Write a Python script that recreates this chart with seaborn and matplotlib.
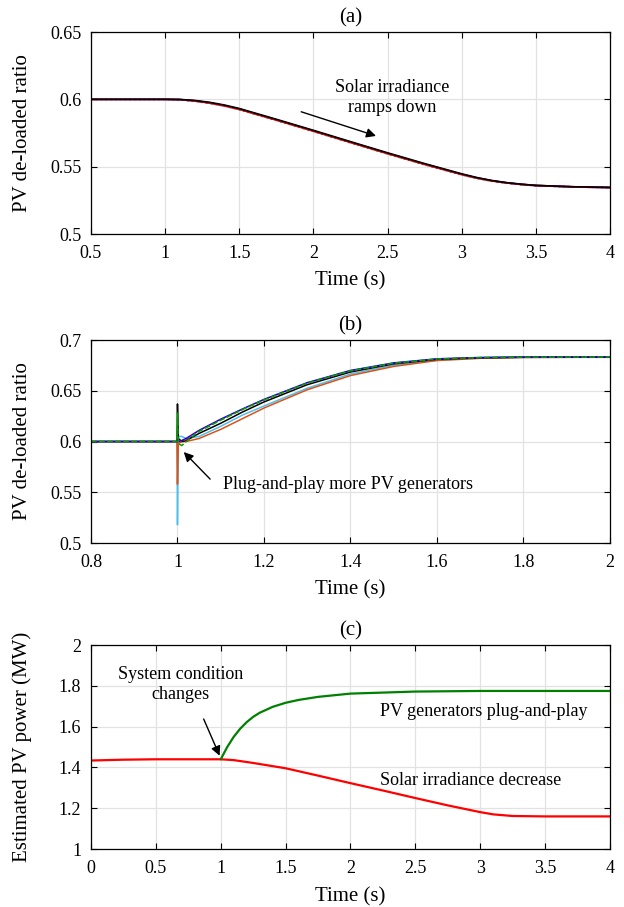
import matplotlib
matplotlib.use('Agg')
import matplotlib.pyplot as plt
import seaborn as sns
from matplotlib.ticker import FormatStrFormatter

# ---- panel (a): de-loaded ratio, irradiance ramp ----
t_a = [0.5, 1.0, 1.1, 1.2, 1.3, 1.4, 1.5, 1.75, 2.0, 2.25, 2.5, 2.75, 3.0, 3.1, 3.2, 3.3, 3.4, 3.5, 3.75, 4.0]
a_black = [0.6, 0.6, 0.5999, 0.5992, 0.5978, 0.5958, 0.5932, 0.5852, 0.5770, 0.5686, 0.5603, 0.5523, 0.5447, 0.5420, 0.5398, 0.5382, 0.5370, 0.5361, 0.5351, 0.5346]
a_red = [0.6, 0.6, 0.5998, 0.5988, 0.5973, 0.5952, 0.5926, 0.5846, 0.5764, 0.5680, 0.5597, 0.5517, 0.5442, 0.5416, 0.5395, 0.5380, 0.5368, 0.5360, 0.5350, 0.5345]
a_green = [0.6, 0.6, 0.5997, 0.5987, 0.5971, 0.5950, 0.5924, 0.5844, 0.5762, 0.5678, 0.5595, 0.5515, 0.5440, 0.5414, 0.5393, 0.5378, 0.5367, 0.5359, 0.5350, 0.5345]
a_blue = [0.6, 0.6, 0.5998, 0.5989, 0.5974, 0.5953, 0.5928, 0.5848, 0.5766, 0.5682, 0.5599, 0.5519, 0.5443, 0.5417, 0.5396, 0.5380, 0.5369, 0.5360, 0.5350, 0.5345]

# ---- panel (b): de-loaded ratio, plug-and-play ----
t_b = [0.8, 0.999, 1.0, 1.002, 1.01, 1.02, 1.05, 1.1, 1.15, 1.2, 1.3, 1.4, 1.5, 1.6, 1.7, 1.8, 2.0]
b_cyan = [0.6, 0.6, 0.518, 0.605, 0.605, 0.603, 0.605, 0.615, 0.626, 0.635, 0.6525, 0.6665, 0.6752, 0.6802, 0.6822, 0.683, 0.6832]
b_orange = [0.6, 0.6, 0.558, 0.598, 0.600, 0.600, 0.603, 0.612, 0.6225, 0.633, 0.651, 0.665, 0.674, 0.6798, 0.682, 0.6828, 0.6832]
b_blue = [0.6, 0.6, 0.6, 0.600, 0.601, 0.603, 0.611, 0.622, 0.632, 0.6415, 0.658, 0.670, 0.6775, 0.6815, 0.6828, 0.6832, 0.6833]
b_red = [0.6, 0.6, 0.6, 0.600, 0.600, 0.602, 0.6105, 0.6215, 0.6315, 0.641, 0.6575, 0.6695, 0.677, 0.6812, 0.6826, 0.6831, 0.6833]
b_black = [0.6, 0.6, 0.637, 0.603, 0.600, 0.601, 0.608, 0.618, 0.629, 0.639, 0.656, 0.6685, 0.6765, 0.681, 0.6825, 0.683, 0.683]
b_green = [0.6, 0.6, 0.628, 0.598, 0.596, 0.600, 0.610, 0.621, 0.6315, 0.641, 0.6575, 0.6697, 0.6772, 0.6813, 0.6827, 0.6831, 0.6833]

# ---- panel (c): estimated PV power ----
t_red = [0.0, 0.25, 0.5, 1.0, 1.1, 1.25, 1.5, 1.75, 2.0, 2.25, 2.5, 2.75, 3.0, 3.1, 3.25, 3.5, 4.0]
p_red = [1.434, 1.438, 1.44, 1.44, 1.436, 1.422, 1.396, 1.360, 1.323, 1.287, 1.250, 1.214, 1.181, 1.170, 1.162, 1.160, 1.160]
t_green = [1.0, 1.05, 1.1, 1.15, 1.2, 1.25, 1.3, 1.4, 1.5, 1.6, 1.75, 2.0, 2.5, 3.0, 4.0]
p_green = [1.44, 1.50, 1.55, 1.59, 1.622, 1.648, 1.668, 1.697, 1.717, 1.731, 1.746, 1.762, 1.772, 1.775, 1.775]

xt_a = [0.5, 1, 1.5, 2, 2.5, 3, 3.5, 4]
yt_a = [0.5, 0.55, 0.6, 0.65]
xt_b = [0.8, 1, 1.2, 1.4, 1.6, 1.8, 2]
yt_b = [0.5, 0.55, 0.6, 0.65, 0.7]
xt_c = [0, 0.5, 1, 1.5, 2, 2.5, 3, 3.5, 4]
yt_c = [1, 1.2, 1.4, 1.6, 1.8, 2]

sns.set_theme(style='whitegrid')
plt.rcParams['font.family'] = ['Liberation Serif', 'DejaVu Serif']
plt.rcParams.update({
    'axes.edgecolor': 'black', 'axes.linewidth': 0.9,
    'grid.color': '#e2e2e2', 'grid.linewidth': 0.9,
    'xtick.direction': 'in', 'ytick.direction': 'in',
    'xtick.top': True, 'ytick.right': True,
    'xtick.bottom': True, 'ytick.left': True,
    'xtick.major.size': 4, 'ytick.major.size': 4,
    'xtick.major.width': 0.8, 'ytick.major.width': 0.8,
    'xtick.color': 'black', 'ytick.color': 'black',
    'xtick.labelsize': 13, 'ytick.labelsize': 13,
    'text.color': 'black', 'axes.labelcolor': 'black',
})

fig = plt.figure(figsize=(6.24, 9.07), dpi=100)
ax_a = fig.add_axes([0.1458, 0.7420, 0.8317, 0.2227])
ax_b = fig.add_axes([0.1458, 0.4013, 0.8317, 0.2238])
ax_c = fig.add_axes([0.1458, 0.0639, 0.8317, 0.2249])

kw = dict(estimator=None, sort=False)
# (a)
sns.lineplot(x=t_a, y=a_green, ax=ax_a, color='#00a000', lw=1.3, ls=':', **kw)
sns.lineplot(x=t_a, y=a_blue, ax=ax_a, color='#0000ff', lw=1.3, **kw)
sns.lineplot(x=t_a, y=a_red, ax=ax_a, color='#ff0000', lw=1.3, **kw)
sns.lineplot(x=t_a, y=a_black, ax=ax_a, color='black', lw=1.2, **kw)
ax_a.annotate('', xy=(2.44, 0.5722), xytext=(1.9, 0.5914),
              arrowprops=dict(arrowstyle='-|>', color='black', lw=1.0, mutation_scale=14))
ax_a.text(2.53, 0.6015, 'Solar irradiance\nramps down', ha='center', va='center',
          fontsize=13, linespacing=1.25)

# (b)
sns.lineplot(x=t_b, y=b_cyan, ax=ax_b, color='#4dbeee', lw=1.1, **kw)
sns.lineplot(x=t_b, y=b_orange, ax=ax_b, color='#d95319', lw=1.1, **kw)
sns.lineplot(x=t_b, y=b_black, ax=ax_b, color='black', lw=1.1, **kw)
sns.lineplot(x=t_b, y=b_blue, ax=ax_b, color='#0000ff', lw=1.1, **kw)
sns.lineplot(x=t_b, y=b_red, ax=ax_b, color='#ff0000', lw=1.1, ls=':', **kw)
sns.lineplot(x=t_b, y=b_green, ax=ax_b, color='#00a000', lw=1.1, ls='--', **kw)
ax_b.annotate('', xy=(1.01, 0.5916), xytext=(1.08, 0.561),
              arrowprops=dict(arrowstyle='-|>', color='black', lw=1.0, mutation_scale=14))
ax_b.text(1.105, 0.558, 'Plug-and-play more PV generators', ha='left', va='center', fontsize=13)

# (c)
sns.lineplot(x=t_red, y=p_red, ax=ax_c, color='#ff0000', lw=1.6, **kw)
sns.lineplot(x=t_green, y=p_green, ax=ax_c, color='#008000', lw=1.6, **kw)
ax_c.annotate('', xy=(1.0, 1.445), xytext=(0.86, 1.65),
              arrowprops=dict(arrowstyle='-|>', color='black', lw=1.0, mutation_scale=14))
ax_c.text(0.69, 1.805, 'System condition\nchanges', ha='center', va='center',
          fontsize=13, linespacing=1.25)
ax_c.text(2.23, 1.674, 'PV generators plug-and-play', ha='left', va='center', fontsize=13)
ax_c.text(2.23, 1.336, 'Solar irradiance decrease', ha='left', va='center', fontsize=13)

setup = [
    (ax_a, '(a)', 'PV de-loaded ratio', xt_a, yt_a),
    (ax_b, '(b)', 'PV de-loaded ratio', xt_b, yt_b),
    (ax_c, '(c)', 'Estimated PV power (MW)', xt_c, yt_c),
]
for ax, title, ylab, xt, yt in setup:
    ax.set_xlim(xt[0], xt[-1])
    ax.set_ylim(yt[0], yt[-1])
    ax.set_xticks(xt)
    ax.set_yticks(yt)
    ax.xaxis.set_major_formatter(FormatStrFormatter('%g'))
    ax.yaxis.set_major_formatter(FormatStrFormatter('%g'))
    ax.set_title(title, fontsize=15, pad=7)
    ax.set_xlabel('Time (s)', fontsize=15)
    ax.set_ylabel(ylab, fontsize=15)
    ax.xaxis.set_label_coords(0.5, -0.185)
    ax.yaxis.set_label_coords(-0.113, 0.5)
    ax.tick_params(axis='x', pad=8)
    ax.tick_params(axis='y', pad=7)
    for s in ax.spines.values():
        s.set_visible(True)
        s.set_color('black')

fig.savefig('out.png', dpi=100)
